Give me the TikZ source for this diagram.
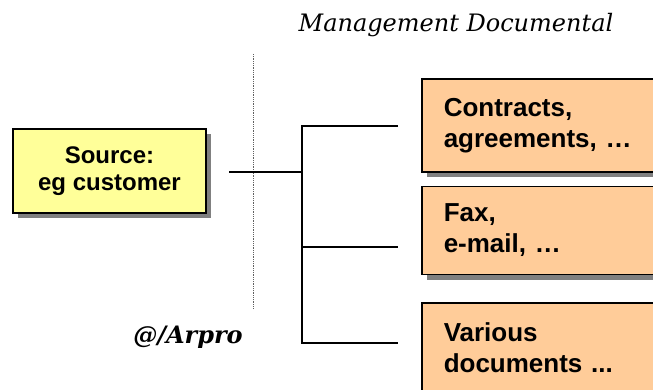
\documentclass[tikz,border=0pt]{standalone}
\usepackage{fontspec}
\setmainfont{Liberation Sans}
\newfontfamily\headfont{DejaVu Serif}
\usepackage{xcolor}
\usepackage{tikz}
\usetikzlibrary{positioning, shadows}
\definecolor{srcfill}{HTML}{FFFF99}
\definecolor{docfill}{HTML}{FFCC99}
\definecolor{shade}{HTML}{808080}
\definecolor{rule}{HTML}{606060}
\tikzset{
  source/.style  = {rectangle, draw=black, line width=1.5pt, fill=srcfill,
                    minimum width=193pt, minimum height=84pt, align=center,
                    font=\fontsize{24}{27}\selectfont\bfseries,
                    drop shadow={shadow xshift=5pt, shadow yshift=-5pt,
                                 fill=shade, opacity=1}},
  doc/.style     = {rectangle, draw=black, line width=1.5pt, fill=docfill,
                    text width=215pt, inner xsep=22pt, align=left,
                    font=\fontsize{26}{31}\selectfont\bfseries,
                    drop shadow={shadow xshift=5pt, shadow yshift=-5pt,
                                 fill=shade, opacity=1}},
  link/.style    = {line width=1.6pt, draw=black},
  sep/.style     = {densely dotted, line width=0.8pt, draw=rule},
  caption/.style = {anchor=base, font=\headfont\itshape\fontsize{24}{28}\selectfont},
}

\begin{document}
\begin{tikzpicture}[x=1pt, y=-1pt]
  \useasboundingbox (0,0) rectangle (653,390);
  \clip (0,0) rectangle (653,390);

  \node[caption] (title) at (456,32) {Management Documental};
  \node[caption, font=\headfont\bfseries\itshape\fontsize{24}{28}\selectfont] (mark)
       at (188,343) {@/Arpro};

  \node[source] (src) at (109.5,171) {Source:\\eg customer};

  \node[doc, minimum height=93pt, anchor=west] (contracts) at (421,125.5)
       {Contracts,\\agreements, …};
  \node[doc, minimum height=88pt, below=13pt of contracts] (fax)
       {Fax,\\e-mail, …};
  \node[doc, minimum height=89pt, below=27pt of fax] (various)
       {Various\\documents ...};

  % tree of connectors
  \coordinate (tap) at (229,172);
  \coordinate (hub) at (302,172);
  \coordinate (top) at (302,126);
  \coordinate (bot) at (302,343);
  \coordinate (end1) at (398,126);
  \coordinate (end2) at (398,247);
  \coordinate (end3) at (398,343);
  \coordinate (cut1) at (253,54);
  \coordinate (cut2) at (253,308);

  \draw[sep] (cut1) -- (cut2);
  \draw[link] (tap) -- (hub);
  \draw[link] (end1) -- (top) -- (bot) -- (end3);
  \draw[link] (hub |- end2) -- (end2);

\end{tikzpicture}
\end{document}
